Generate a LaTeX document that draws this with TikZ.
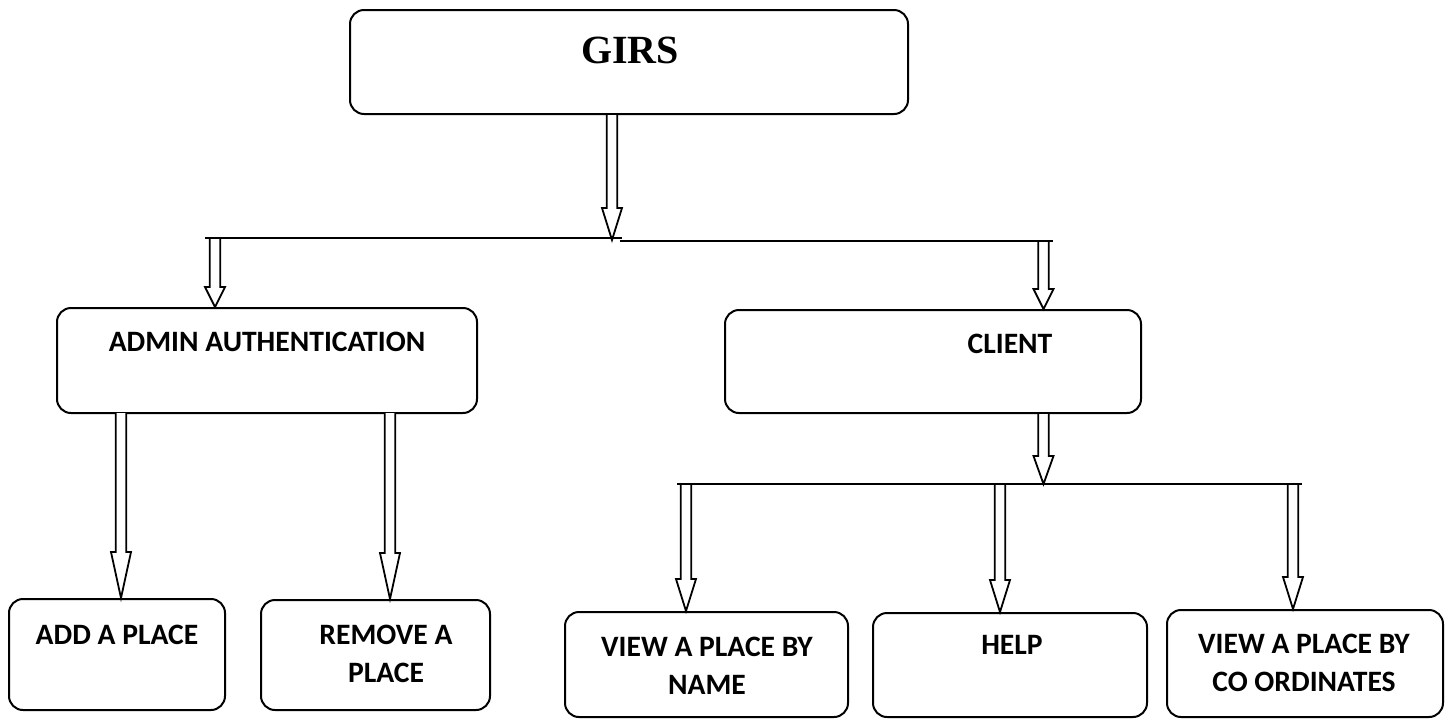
\documentclass[tikz,border=0pt]{standalone}
\usepackage{fontspec}
\setmainfont{Carlito}
\newfontfamily\girsfont{Liberation Serif}
\usetikzlibrary{calc,fit}
\tikzset{
  box/.style={draw, line width=1pt, rounded corners=7pt, inner sep=0pt},
  lbl/.style={font=\bfseries\fontsize{14.8}{19}\selectfont, align=center, inner sep=0pt},
  girslbl/.style={font=\girsfont\bfseries\fontsize{20}{24}\selectfont, inner sep=0pt},
  bus/.style={line width=1pt},
  barrow/.style={draw, line width=0.9pt, fill=white, line join=miter},
}
\newcommand\blockarrow[3]{%
  \path[barrow] let \p1=#1, \p2=#2 in
    (\x2-2.6pt,\y1) -- (\x2-2.6pt,\y2+#3) -- (\x2-5pt,\y2+#3) -- (\x2,\y2)
    -- (\x2+5pt,\y2+#3) -- (\x2+2.6pt,\y2+#3) -- (\x2+2.6pt,\y1);
}
\begin{document}
\begin{tikzpicture}[x=0.5pt,y=-0.5pt]
\useasboundingbox (0,0) rectangle (1447,719);

% boxes
\node[box, fit={(350,10) (908,114)}] (girs) {};
\node[box, fit={(57,308) (477,413)}] (admin) {};
\node[box, fit={(725,310) (1141,413)}] (client) {};
\node[box, fit={(9,599) (225,710)}] (add) {};
\node[box, fit={(261,600) (490,710)}] (remove) {};
\node[box, fit={(565,612) (848,717)}] (byname) {};
\node[box, fit={(873,613) (1147,717)}] (help) {};
\node[box, fit={(1167,610) (1443,717)}] (bycoord) {};

% labels
\node[girslbl] (tgirs) at (630,50) {GIRS};
\node[lbl] (tadmin) at (267,342) {ADMIN AUTHENTICATION};
\node[lbl] (tclient) at (1010,344) {CLIENT};
\node[lbl] (tadd) at (117,635) {ADD A PLACE};
\node[lbl] (tremove) at (386,654) {REMOVE A\\PLACE};
\node[lbl] (tbyname) at (707,666) {VIEW A PLACE BY\\NAME};
\node[lbl] (thelp) at (1012,645) {HELP};
\node[lbl] (tbycoord) at (1304,663) {VIEW A PLACE BY\\CO ORDINATES};

% bus coordinates
\coordinate (b1a) at (205,238);
\coordinate (b1b) at (622,238);
\coordinate (b1c) at (620,241);
\coordinate (b1d) at (1053,241);
\coordinate (b2a) at (677,484);
\coordinate (b2b) at (1302,484);

% arrow tips / tops
\coordinate (tipg) at (612,240);
\coordinate (topad) at (215,238);
\coordinate (topcl) at (1043.5,241);
\coordinate (tipcl) at (1043.5,484);
\coordinate (a1) at (121,413);
\coordinate (a2) at (390,413);
\coordinate (c1) at (686,484);
\coordinate (c2) at (1000,484);
\coordinate (c3) at (1293,484);

% block arrows
\blockarrow{(girs.south -| tipg)}{(tipg)}{16pt}
\blockarrow{(topad)}{(admin.north -| topad)}{10pt}
\blockarrow{(topcl)}{(client.north -| topcl)}{10pt}
\blockarrow{(client.south -| tipcl)}{(tipcl)}{14pt}
\blockarrow{(a1)}{(add.north -| a1)}{23pt}
\blockarrow{(a2)}{(remove.north -| a2)}{23pt}
\blockarrow{(c1)}{(byname.north -| c1)}{16pt}
\blockarrow{(c2)}{(help.north -| c2)}{16pt}
\blockarrow{(c3)}{(bycoord.north -| c3)}{16pt}

% bus lines
\draw[bus] (b1a) -- (b1b);
\draw[bus] (b1c) -- (b1d);
\draw[bus] (b2a) -- (b2b);
\end{tikzpicture}
\end{document}
